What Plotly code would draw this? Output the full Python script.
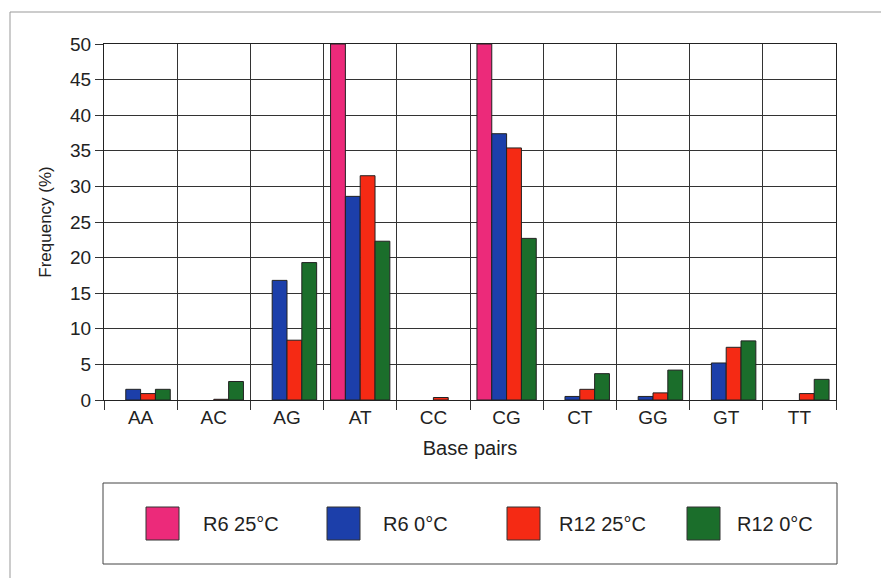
import plotly.graph_objects as go

categories = ["AA", "AC", "AG", "AT", "CC", "CG", "CT", "GG", "GT", "TT"]
series_names = ["R6 25°C", "R6 0°C", "R12 25°C", "R12 0°C"]
r6_25 = [None, None, None, 50, None, 50, None, None, None, None]
r6_0 = [1.5, None, 16.8, 28.6, None, 37.4, 0.5, 0.5, 5.2, None]
r12_25 = [0.9, 0.1, 8.4, 31.5, 0.35, 35.4, 1.5, 1.0, 7.4, 0.9]
r12_0 = [1.5, 2.6, 19.3, 22.3, None, 22.7, 3.7, 4.2, 8.3, 2.9]
colors = ["#EC2A7A", "#1C3FAA", "#F52A14", "#1B6E2B"]
y_ticks = list(range(0, 55, 5))

# page has an 8px body margin; work in page pixels and subtract it
OFF = 8
W, H = 889 - OFF, 578 - OFF
L, T = 104 - OFF, 44 - OFF
R, B = 889 - 836, 578 - 400
PW, PH = W - L - R, H - T - B

fig = go.Figure()
for name, vals, col in zip(series_names, [r6_25, r6_0, r12_25, r12_0], colors):
    fig.add_trace(go.Bar(
        x=categories, y=vals, name=name,
        marker=dict(color=col, line=dict(color="#222", width=1)),
        showlegend=False,
    ))

def px_x(p):
    return (p - OFF - L) / PW

def px_y(p):
    return (H - B - (p - OFF)) / PH

shapes = []
annotations = []
shapes.append(dict(type="rect", xref="paper", yref="paper",
                   x0=px_x(103), x1=px_x(837), y0=px_y(564), y1=px_y(483),
                   line=dict(color="#444", width=1), fillcolor="white"))
sw_x = [146, 327, 507, 687]
lab_x = [201, 381, 557, 735]
for name, col, sx, lx in zip(series_names, colors, sw_x, lab_x):
    shapes.append(dict(type="rect", xref="paper", yref="paper",
                       x0=px_x(sx), x1=px_x(sx + 33), y0=px_y(540), y1=px_y(507),
                       line=dict(color="#333", width=1), fillcolor=col))
    annotations.append(dict(xref="paper", yref="paper", x=px_x(lx), y=px_y(524),
                            text=name, showarrow=False, xanchor="left", yanchor="middle",
                            font=dict(size=20, color="#222")))
# page frame: top and left lines
shapes.append(dict(type="line", xref="paper", yref="paper",
                   x0=px_x(10), x1=px_x(889), y0=px_y(12), y1=px_y(12),
                   line=dict(color="#999", width=1)))
shapes.append(dict(type="line", xref="paper", yref="paper",
                   x0=px_x(10), x1=px_x(10), y0=px_y(12), y1=px_y(578),
                   line=dict(color="#999", width=1)))

fig.update_layout(
    width=W, height=H,
    margin=dict(l=L, r=R, t=T, b=B),
    paper_bgcolor="white", plot_bgcolor="white",
    barmode="group", bargap=0.19, bargroupgap=0,
    font=dict(family="Liberation Sans, Arial, sans-serif", size=19, color="#222"),
    shapes=shapes, annotations=annotations,
    showlegend=False,
)
fig.update_xaxes(
    type="category", tickson="boundaries",
    showgrid=True, gridcolor="#333", gridwidth=1,
    showline=True, linecolor="#222", linewidth=1, mirror=True,
    ticks="outside", ticklen=9, tickcolor="#333",
    tickfont=dict(size=19),
    title=dict(text="Base pairs", font=dict(size=20), standoff=14),
)
fig.update_yaxes(
    range=[0, 50], tickvals=y_ticks,
    showgrid=True, gridcolor="#333", gridwidth=1, zeroline=False,
    showline=True, linecolor="#222", linewidth=1, mirror=True,
    ticks="outside", ticklen=8, tickcolor="#333",
    tickfont=dict(size=19),
    title=dict(text="Frequency (%)", font=dict(size=17), standoff=14),
)

fig.write_html("out.html")
